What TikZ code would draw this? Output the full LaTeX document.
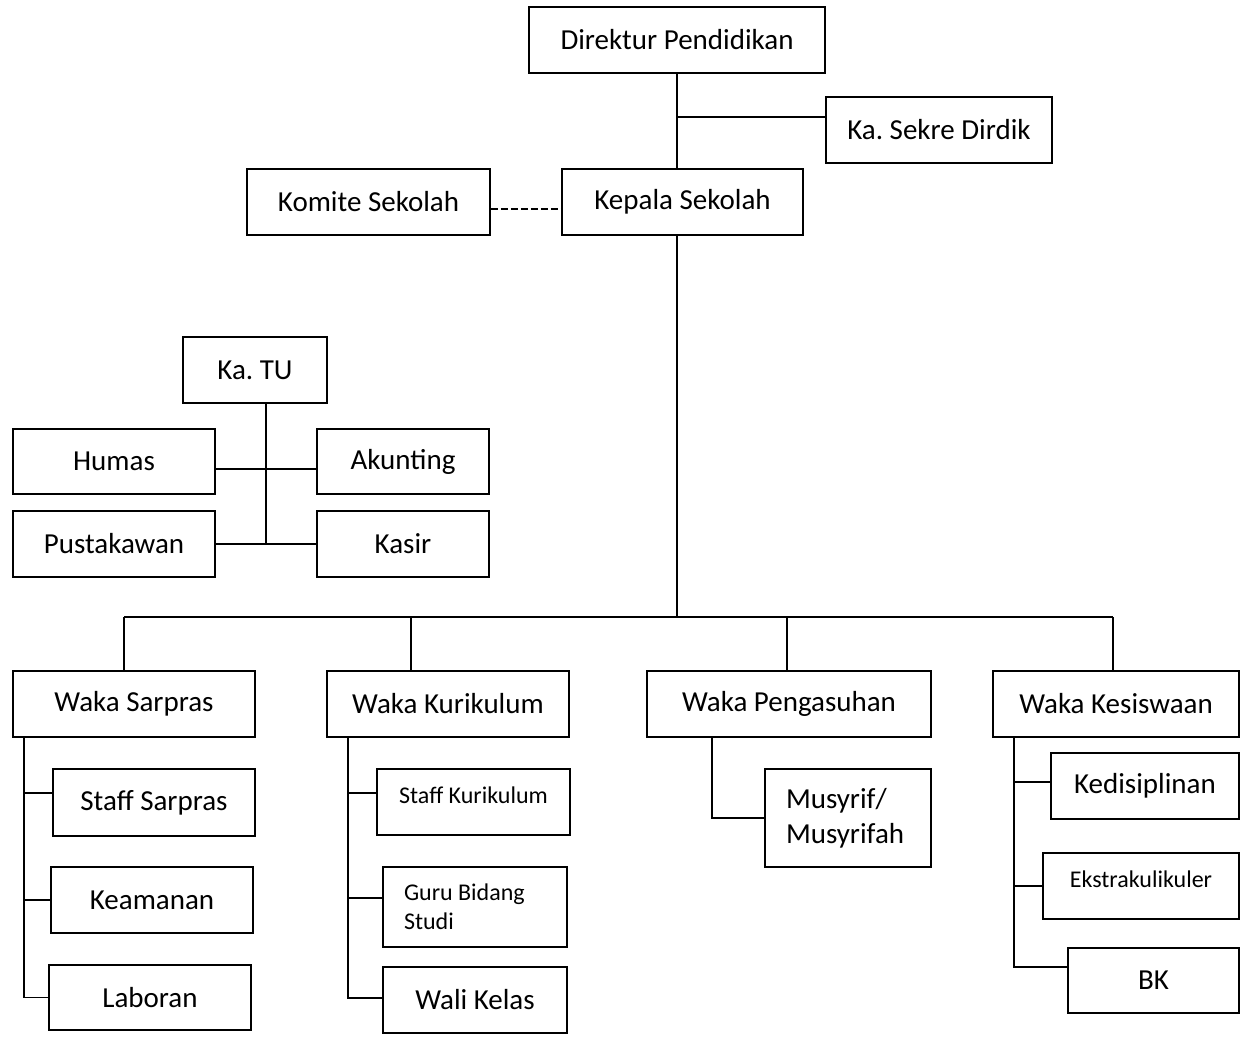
\documentclass[tikz,border=0pt]{standalone}
\usepackage{fontspec}
\setmainfont{Carlito}
\frenchspacing
\tikzset{
  boite/.style={draw, line width=1.8pt, inner sep=0pt, minimum height=66pt, font=\fontsize{29}{35}\selectfont},
  petit/.style={font=\fontsize{24}{29}\selectfont},
  trait/.style={line width=1.8pt}
}
\begin{document}
\begin{tikzpicture}[x=1pt,y=-1pt]
\useasboundingbox (0,0) rectangle (1241,1036);
% direction
\node[boite, minimum width=296pt] (dir) at (677,40) {Direktur Pendidikan};
\node[boite, minimum width=226pt] (sekre) at (939,130) {Ka. Sekre Dirdik};
\node[boite, minimum width=243pt] (komite) at (368.5,202) {Komite Sekolah};
\node[boite, minimum width=241pt] (kepsek) at (682.5,202) {Kepala Sekolah};
% tata usaha
\node[boite, minimum width=144pt] (katu) at (255,370) {Ka. TU};
\node[boite, minimum width=202pt, minimum height=65pt] (humas) at (114,461.5) {Humas};
\node[boite, minimum width=172pt, minimum height=65pt] (akunting) at (403,461.5) {Akunting};
\node[boite, minimum width=202pt] (pustaka) at (114,544) {Pustakawan};
\node[boite, minimum width=172pt] (kasir) at (403,544) {Kasir};
% wakil kepala
\node[boite, minimum width=242pt] (sarpras) at (134,704) {Waka Sarpras};
\node[boite, minimum width=242pt] (kurikulum) at (448,704) {Waka Kurikulum};
\node[boite, minimum width=284pt] (pengasuhan) at (789,704) {Waka Pengasuhan};
\node[boite, minimum width=246pt] (kesiswaan) at (1116,704) {Waka Kesiswaan};
% bawahan
\node[boite, minimum width=202pt, minimum height=67pt] (staffsar) at (154,802.5) {Staff Sarpras};
\node[boite, minimum width=202pt] (keamanan) at (152,900) {Keamanan};
\node[boite, minimum width=202pt, minimum height=65pt] (laboran) at (150,997.5) {Laboran};
\node[boite, petit, minimum width=193pt, text depth=14pt] (staffkur) at (473.5,802) {Staff Kurikulum};
\node[boite, petit, align=flush left, text width=142pt, minimum width=184pt, minimum height=80pt] (guru) at (475,907) {Guru Bidang\\Studi};
\node[boite, minimum width=184pt] (wali) at (475,1000) {Wali Kelas};
\node[boite, align=flush left, text width=124pt, minimum width=166pt, minimum height=98pt] (musyrif) at (848,818) {Musyrif/\\Musyrifah};
\node[boite, minimum width=188pt] (kedis) at (1145,786) {Kedisiplinan};
\node[boite, petit, minimum width=196pt, text depth=14pt] (ekstra) at (1141,886) {Ekstrakulikuler};
\node[boite, minimum width=171pt, minimum height=65pt] (bk) at (1153.5,980.5) {BK};
% liaisons du haut
\draw[trait] (dir.south) -- (dir.south |- kepsek.north);
\coordinate (c1) at ([yshift=13pt]sekre.west);
\draw[trait] (c1) -- (c1 -| dir.south);
\draw[trait, dash pattern=on 7pt off 3pt] ([yshift=-7pt]komite.east) -- ([yshift=-7pt]kepsek.west);
% tata usaha
\coordinate (s0) at ([xshift=11pt]katu.south);
\draw[trait] (s0) -- (s0 |- pustaka.east);
\coordinate (c2) at ([yshift=-7.5pt]humas.east);
\draw[trait] (c2) -- (c2 -| akunting.west);
\draw[trait] (pustaka.east) -- (kasir.west);
% garis utama
\coordinate (bus) at (dir.south |- 0,617);
\draw[trait] (bus |- kepsek.south) -- (bus);
\foreach \n/\x in {sarpras/124, kurikulum/411, pengasuhan/787, kesiswaan/1113} {
  \coordinate (b\n) at (\x,617);
  \draw[trait] (b\n) -- (b\n |- \n.north);
}
\draw[trait] (bsarpras) -- (bkesiswaan);
% cabang
\coordinate (s1) at ([xshift=12pt]sarpras.south west);
\draw[trait] (s1) |- (laboran.west);
\draw[trait] ([yshift=9.5pt]staffsar.west) -| (s1);
\draw[trait] (keamanan.west) -| (s1);
\coordinate (s2) at ([xshift=22pt]kurikulum.south west);
\draw[trait] (s2) |- ([yshift=2pt]wali.west);
\draw[trait] ([yshift=9pt]staffkur.west) -| (s2);
\draw[trait] ([yshift=9pt]guru.west) -| (s2);
\coordinate (s3) at ([xshift=66pt]pengasuhan.south west);
\draw[trait] (s3) |- (musyrif.west);
\coordinate (s4) at ([xshift=22pt]kesiswaan.south west);
\draw[trait] (s4) |- ([yshift=13.5pt]bk.west);
\draw[trait] ([yshift=4pt]kedis.west) -| (s4);
\draw[trait] (ekstra.west) -| (s4);
\end{tikzpicture}
\end{document}
